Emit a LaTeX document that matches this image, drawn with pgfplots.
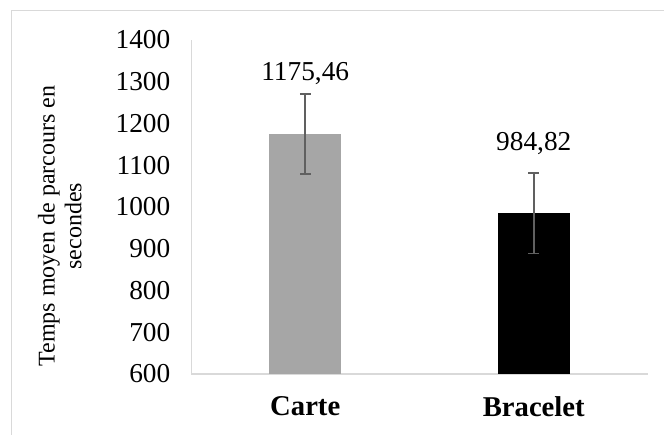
\documentclass[border=0pt]{standalone}
\usepackage{fontspec}
\setmainfont{Liberation Serif}
\usepackage{pgfplots}
\pgfplotsset{compat=1.18}
\definecolor{cartegray}{HTML}{A6A6A6}
\definecolor{axgray}{HTML}{D9D9D9}
\definecolor{errgray}{HTML}{606060}
\begin{document}
\begin{tikzpicture}
\useasboundingbox (0pt,0pt) rectangle (498pt,326.25pt);
\draw[axgray, line width=0.9pt] (8.6pt,-5pt) -- (8.6pt,318.4pt) -- (505pt,318.4pt);
\begin{axis}[
  at={(143.25pt,45.75pt)}, anchor=south west,
  scale only axis, width=342.75pt, height=250.5pt,
  xmin=-0.5, xmax=1.5, ymin=600, ymax=1400,
  ytick={600,700,...,1400},
  xtick={0,1}, xticklabels={Carte,Bracelet},
  axis x line*=bottom, axis y line*=left,
  axis line style={-, draw=axgray},
  x axis line style={line width=1.5pt},
  y axis line style={line width=0.75pt},
  major tick length=0pt,
  /pgf/number format/assume math mode=true,
  /pgf/number format/1000 sep={},
  yticklabel style={font=\fontsize{20.5}{24}\selectfont, xshift=-12pt},
  xticklabel style={font=\fontsize{21.5}{25}\selectfont\bfseries, yshift=-13.5pt},
  ylabel={Temps moyen de parcours en\\secondes},
  ylabel style={font=\fontsize{18}{20}\selectfont, align=center, at={(axis description cs:-0.287,0.443)}, anchor=center},
]
\addplot[ybar, bar width=54pt, bar shift=0pt, fill=cartegray, draw=none,
  error bars/.cd, y dir=both, y explicit,
  error bar style={errgray, line width=1.3pt},
  error mark options={errgray, line width=1.3pt, mark size=4.1pt, rotate=90}]
  coordinates {(0,1175.46) +- (0,96)};
\addplot[ybar, bar width=54pt, bar shift=0pt, fill=black, draw=none,
  error bars/.cd, y dir=both, y explicit,
  error bar style={errgray, line width=1.3pt},
  error mark options={errgray, line width=1.3pt, mark size=4.1pt, rotate=90}]
  coordinates {(1,984.82) +- (0,96)};
\node[font=\fontsize{20.5}{24}\selectfont, anchor=base] at (axis cs:0,1303) {1175,46};
\node[font=\fontsize{20.5}{24}\selectfont, anchor=base] at (axis cs:1,1136) {984,82};
\end{axis}
\end{tikzpicture}
\end{document}
